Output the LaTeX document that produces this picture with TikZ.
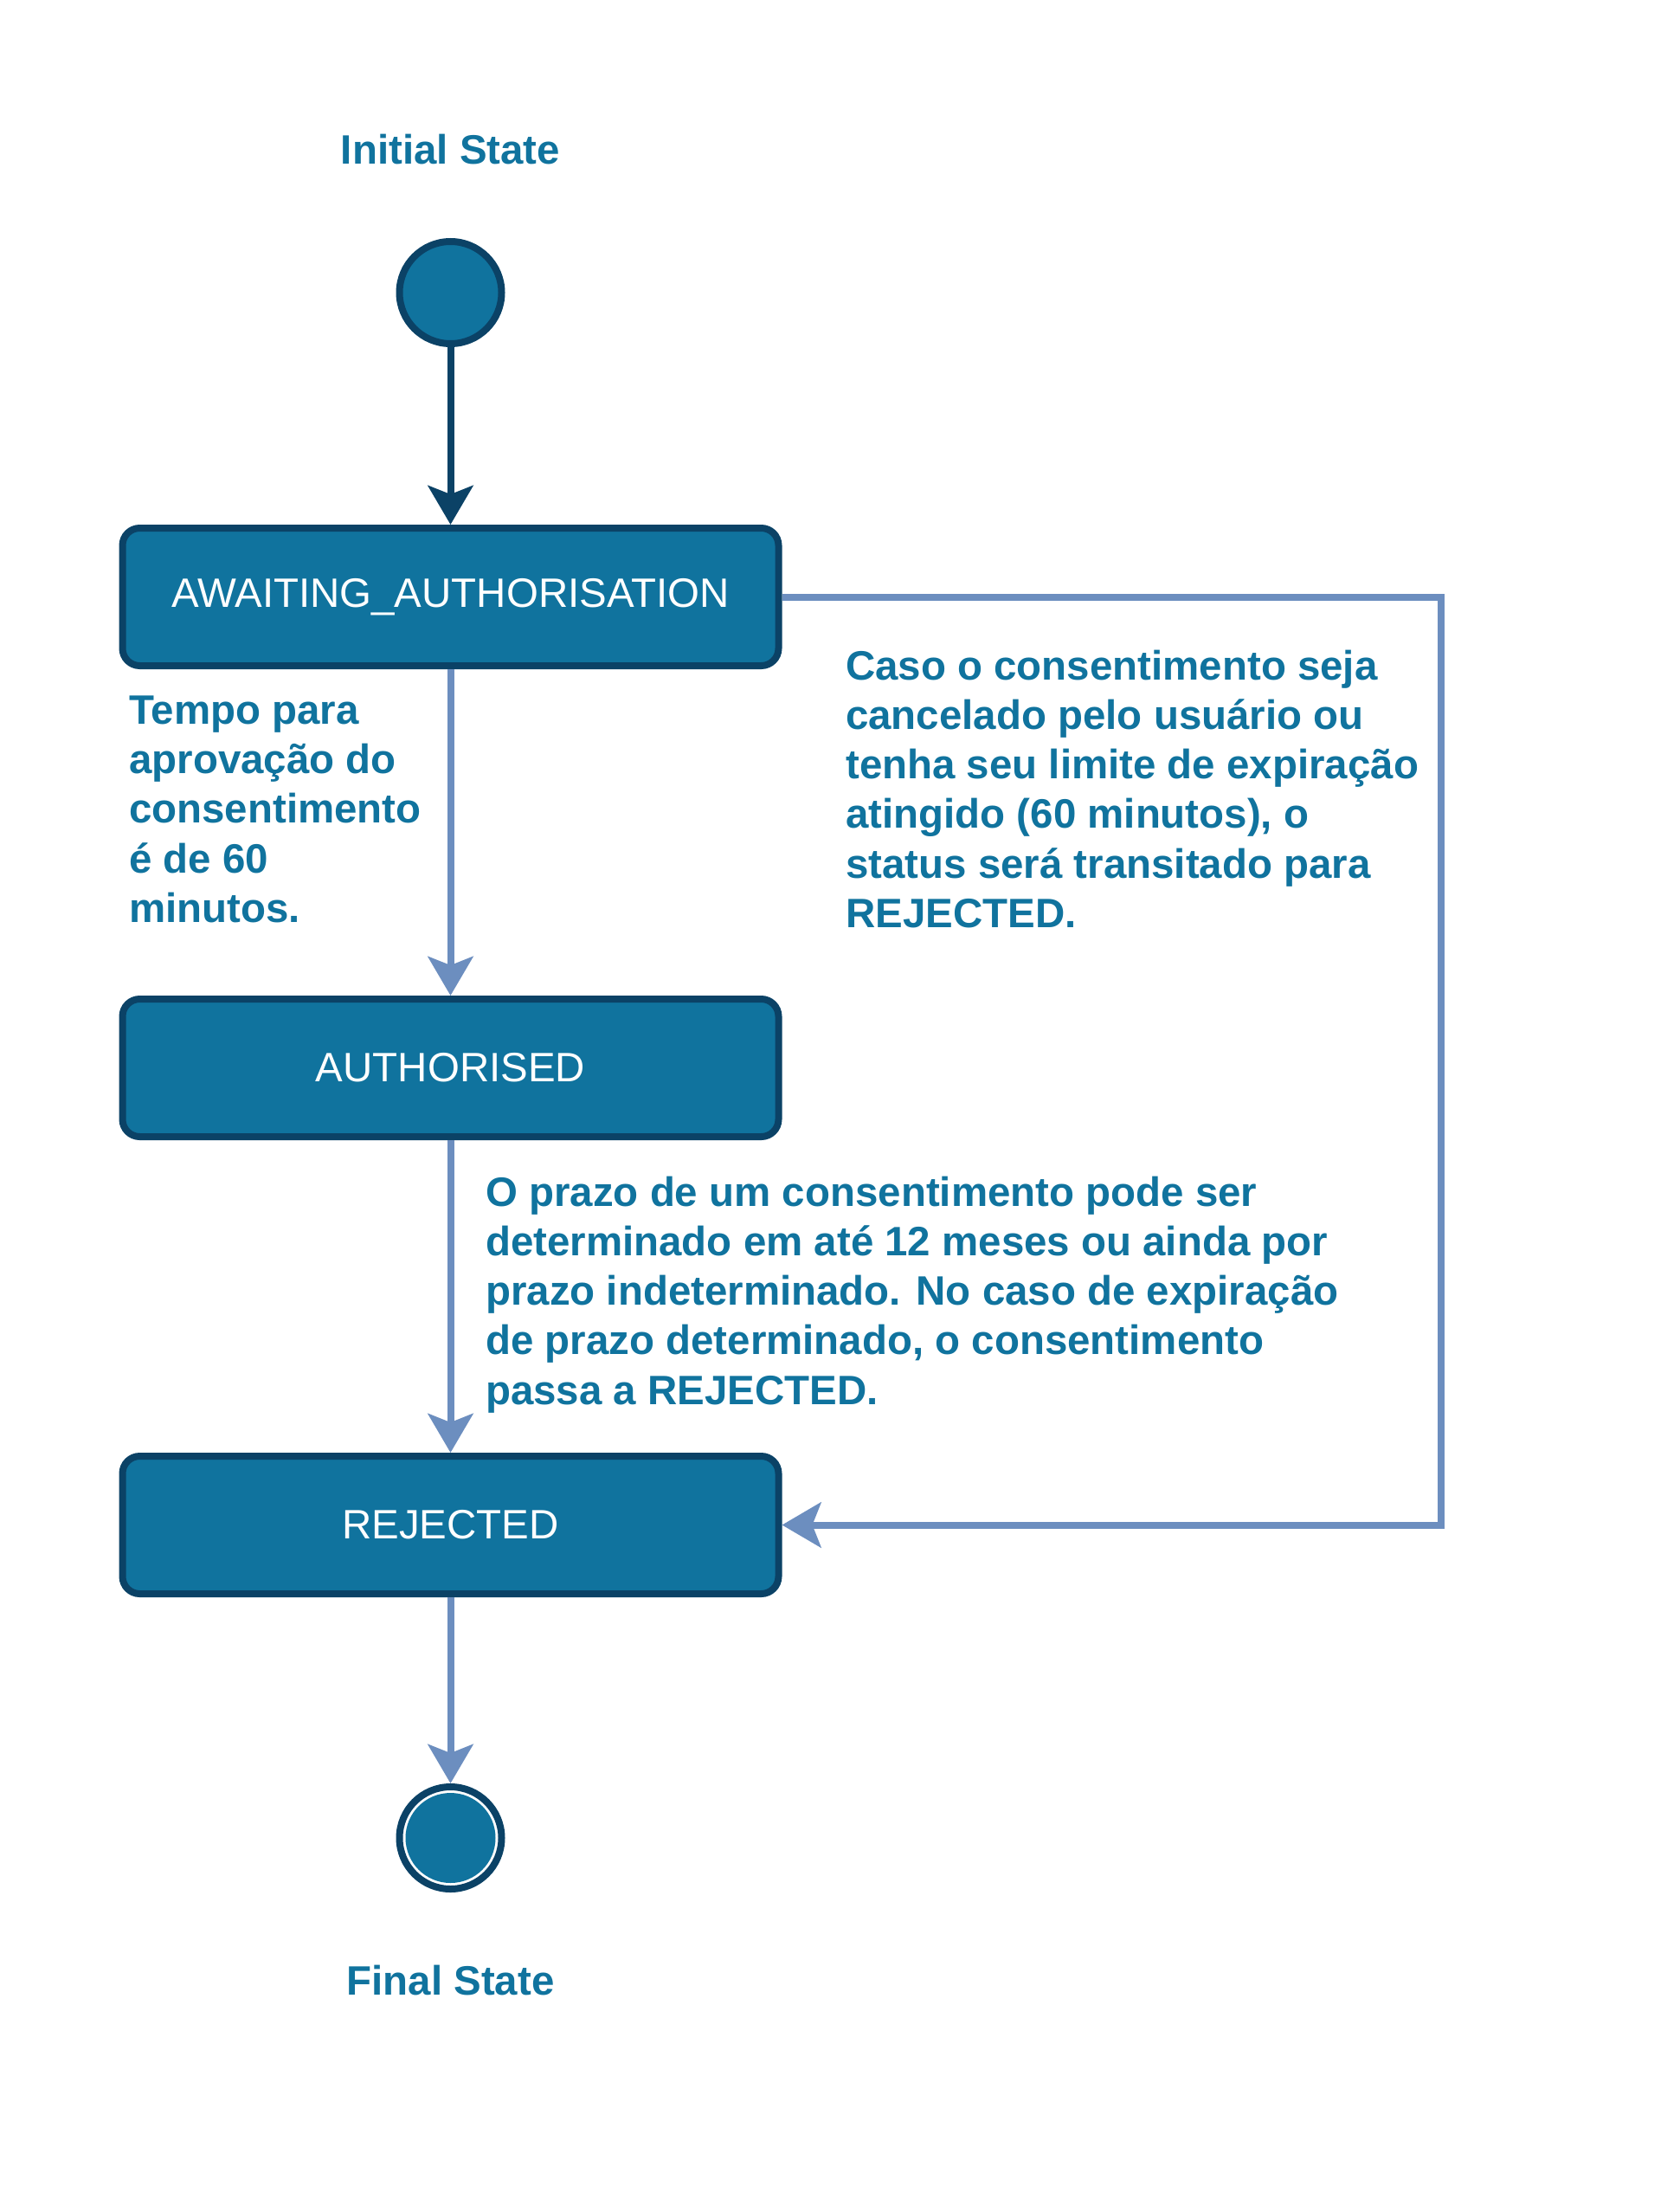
\documentclass[tikz,border=0pt]{standalone}
\usepackage{fontspec}
\setmainfont{Liberation Sans}
\usetikzlibrary{arrows.meta, positioning}
\usepackage{xcolor}
\definecolor{statefill}{HTML}{10739E}
\definecolor{stateline}{HTML}{0B4266}
\definecolor{flowline}{HTML}{6C8EBF}

\begin{document}
\begin{tikzpicture}[
font=\fontsize{13.5pt}{16.3pt}\selectfont,
state/.style={draw=stateline,
fill=statefill,
line width=0.08cm,
rounded corners=0.2cm,
minimum width=7.58cm,
minimum height=1.59cm,
text=white,
align=center},
initial/.style={circle, draw=stateline, fill=statefill, line width=0.08cm, minimum size=1.18cm},
final/.style={circle, draw=stateline, fill=white, line width=0.08cm, minimum size=1.18cm,
path picture={\fill[statefill] (path picture bounding box.center) circle (0.52cm);}},
title/.style={text=statefill, font=\fontsize{13.5pt}{16.3pt}\selectfont\bfseries, inner sep=0pt},
note/.style={text=statefill, font=\fontsize{13.5pt}{16.3pt}\selectfont\bfseries, align=left, inner sep=0pt},
arrow/.style={-{Stealth[length=0.45cm, width=0.52cm, inset=0.1cm]}, line width=0.08cm, draw=stateline},
flow/.style={-{Stealth[length=0.45cm, width=0.52cm, inset=0.1cm]}, line width=0.08cm, draw=flowline}
]
\useasboundingbox (0,0) rectangle (19.40,-25.32);

\node[state] (await) at (5.205,-6.895) {AWAITING\_AUTHORISATION};
\node[initial, above=2.05cm of await] (init) {};
\node[title, above=0.84cm of init] (initlabel) {Initial State};
\node[state, below=3.77cm of await] (auth) {AUTHORISED};
\node[state, below=3.61cm of auth] (rej) {REJECTED};
\node[final, below=2.15cm of rej] (fim) {};
\node[title, below=0.83cm of fim] (fimlabel) {Final State};

% textos das transicoes
\node[note, below right=0.30cm and 0.11cm of await.south west] (notetime) {Tempo para\\aprovação do\\consentimento\\é de 60\\minutos.};
\node[note, below right=-0.23cm and 0.73cm of await.south east] (notecancel) {Caso o consentimento seja\\cancelado pelo usuário ou\\tenha seu limite de expiração\\atingido (60 minutos), o\\status será transitado para\\REJECTED.};
\node[note, below right=0.41cm and 0.40cm of auth.south] (noteprazo) {O prazo de um consentimento pode ser\\determinado em até 12 meses ou ainda por\\prazo indeterminado. No caso de expiração\\de prazo determinado, o consentimento\\passa a REJECTED.};

\draw[arrow] (init) -- (await);
\draw[flow] (await) -- (auth);
\draw[flow] (auth) -- (rej);
\draw[flow] (rej) -- (fim);
\draw[flow] (await.east) -- ++(7.61,0) |- (rej.east);

\end{tikzpicture}
\end{document}
